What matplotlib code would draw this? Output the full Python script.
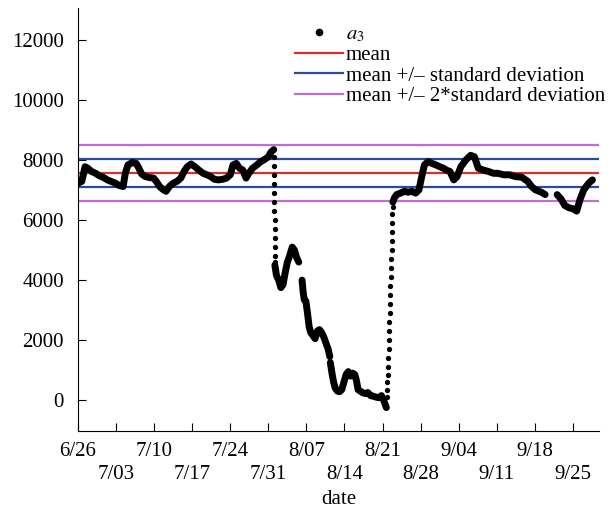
import numpy as np
import matplotlib.pyplot as plt
from matplotlib.lines import Line2D

plt.rcParams['font.family'] = ['Liberation Serif', 'DejaVu Serif']
plt.rcParams['mathtext.fontset'] = 'stix'

# a3 readings, x = days after 6/26; nan splits the trace where it jumps
day = [0.0, 0.7, 1.3, 1.8, 2.5, 3.25, 4.0, 4.7, 5.4, 6.1, 6.9, 7.6, 8.3, 8.7, 9.2, 10.0,
       10.7, 11.2, 11.7, 12.4, 13.1, 13.9, 14.4, 15.0, 15.7, 16.2, 16.8, 17.5, 18.2, 18.9,
       19.5, 20.1, 20.8, 21.5, 22.2, 23.0, 23.7, 24.4, 25.1, 25.8, 26.6, 27.3, 28.0, 28.5,
       29.1, 29.7, 30.3, 30.9, 31.4, 32.1, 32.9, 33.6, 34.3, 35.0, 35.5, 36.0, np.nan,
       36.2, 36.5, 36.9, 37.3, 37.7, 38.1, 38.5, 38.9, 39.4, 39.8, 40.2, 40.6, np.nan,
       41.2, 41.4, 41.6, 41.9, 42.2, 42.5, 42.8, 43.2, 43.6, 44.0, 44.4, 44.8, 45.2, 45.6,
       46.0, 46.3, np.nan,
       46.4, 46.7, 47.0, 47.3, 47.7, 48.1, 48.5, 48.9, 49.3, 49.7, 50.1, 50.5, 50.9, 51.2,
       51.5, 51.9, 52.3, 52.8, 53.3, 53.8, 54.3, 54.8, 55.3, 55.8, 56.2, 56.5, 56.7, np.nan,
       57.9, 58.2, 58.6, 59.3, 60.0, 60.7, 61.4, 62.1, 62.7, 63.2, 63.7, 64.4, 65.1, 65.8,
       66.5, 67.2, 67.7, 68.4, 69.1, 69.7, 70.4, 71.3, 72.2, 72.9, 73.6, 74.5, 75.5, 76.4,
       77.2, 78.3, 79.4, 80.4, 81.6, 82.7, 83.4, 84.1, 85.2, 85.9, np.nan,
       88.1, 88.8, 89.5, 90.3, 91.0, 91.7, 92.3, 93.0, 93.9, 94.6]
a3 = [7230, 7290, 7780, 7730, 7620, 7560, 7470, 7420, 7340, 7290, 7230, 7150, 7120, 7560, 7840, 7920,
      7890, 7730, 7540, 7450, 7420, 7400, 7290, 7120, 7010, 6960, 7120, 7230, 7290, 7400,
      7620, 7780, 7870, 7780, 7670, 7560, 7510, 7450, 7360, 7340, 7360, 7400, 7510, 7840,
      7890, 7730, 7670, 7400, 7560, 7730, 7840, 7950, 8020, 8110, 8270, 8350, np.nan,
      4500, 4150, 4000, 3750, 3850, 4250, 4600, 4800, 5100, 5000, 4750, 4600, np.nan,
      4000, 3600, 3350, 3300, 2900, 2450, 2250, 2150, 2050, 2300, 2350, 2250, 2100, 1900,
      1700, 1450, np.nan,
      1250, 900, 600, 400, 300, 280, 350, 600, 850, 950, 800, 900, 850, 650,
      350, 300, 250, 220, 250, 150, 130, 100, 80, 150, 0, -150, -250, np.nan,
      6600, 6750, 6850, 6900, 6960, 6930, 6960, 6900, 7010, 7450, 7840, 7950, 7890, 7840,
      7780, 7730, 7670, 7620, 7340, 7450, 7780, 8000, 8160, 8110, 7730, 7670, 7620, 7560,
      7560, 7510, 7510, 7450, 7430, 7290, 7120, 7010, 6930, 6850, np.nan,
      6850, 6710, 6490, 6410, 6380, 6300, 6680, 7010, 7230, 7340]

# single readings on the steep drop and rise
jump_day = [36.05, 36.07, 36.08, 36.1, 36.11, 36.12, 36.13, 36.14, 36.15, 36.16, 36.17, 36.18, 36.2,
            56.8, 56.85, 56.9, 56.95, 57.0, 57.05, 57.1, 57.15, 57.2, 57.25, 57.3, 57.35, 57.4,
            57.45, 57.5, 57.55, 57.6, 57.65, 57.7, 57.72, 57.75, 57.8, 57.85]
jump_a3 = [8100, 7800, 7500, 7200, 6900, 6600, 6300, 6000, 5700, 5400, 5100, 4800, 4600,
           100, 350, 600, 850, 1100, 1400, 1700, 2000, 2300, 2600, 2900, 3200, 3500,
           3800, 4100, 4400, 4700, 5000, 5300, 5600, 5900, 6200, 6450]

mean = 7560
std = 465

tick_days = [0, 7, 14, 21, 28, 35, 42, 49, 56, 63, 70, 77, 84, 91]
tick_labels = ['6/26', '\n7/03', '7/10', '\n7/17', '7/24', '\n7/31', '8/07',
               '\n8/14', '8/21', '\n8/28', '9/04', '\n9/11', '9/18', '\n9/25']

red = '#d9302a'
blue = '#2b4a9e'
purple = '#c46bd6'

fig = plt.figure(figsize=(6.16, 5.09), dpi=100)
ax = fig.add_axes([0.1266, 0.1532, 0.8458, 0.8311])

ax.plot(day, a3, color='black', lw=5, solid_capstyle='round', solid_joinstyle='round', zorder=3)
ax.plot(jump_day, jump_a3, 'o', color='black', ms=3.8, mew=0, zorder=3)

ax.axhline(mean, color=red, lw=1.6)
ax.axhline(mean + std, color=blue, lw=1.6)
ax.axhline(mean - std, color=blue, lw=1.6)
ax.axhline(mean + 2 * std, color=purple, lw=1.6)
ax.axhline(mean - 2 * std, color=purple, lw=1.6)

ax.set_xlim(0, 95.8)
ax.set_ylim(-1030, 13070)
ax.set_yticks([0, 2000, 4000, 6000, 8000, 10000, 12000])
ax.set_xticks(tick_days)
ax.set_xticklabels(tick_labels)
for lab in ax.get_xticklabels():
    lab.set_linespacing(1.3)
ax.tick_params(direction='in', length=5.5, labelsize=15)
ax.tick_params(axis='y', pad=10)
ax.tick_params(axis='x', pad=8)
ax.spines['top'].set_visible(False)
ax.spines['right'].set_visible(False)
ax.set_xlabel('date', fontsize=15, labelpad=4)

handles = [Line2D([], [], marker='o', ls='none', color='black', ms=4.5),
           Line2D([], [], color=red, lw=1.6),
           Line2D([], [], color=blue, lw=1.6),
           Line2D([], [], color=purple, lw=1.6)]
labels = ['$a_3$', 'mean', 'mean +/\u2013 standard deviation', 'mean +/\u2013 2*standard deviation']
fig.legend(handles, labels, loc='upper left', bbox_to_anchor=(0.462, 0.972), frameon=False,
           fontsize=15, handlelength=2.3, handletextpad=0.15, labelspacing=0.05, borderpad=0)

fig.savefig('out.png', dpi=100)
